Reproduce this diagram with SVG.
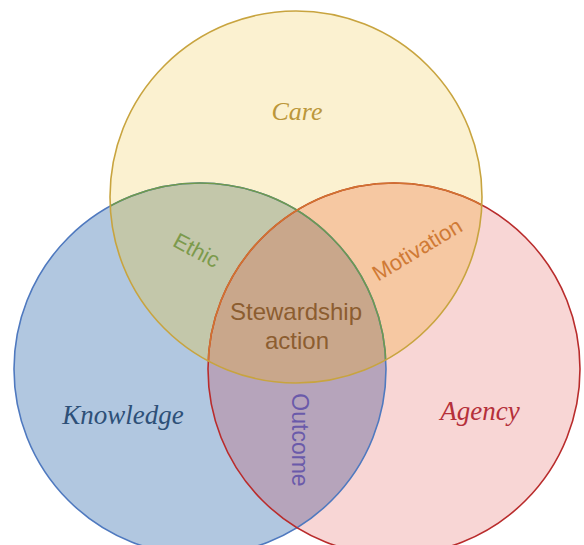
<svg xmlns="http://www.w3.org/2000/svg" width="584" height="545" viewBox="0 0 584 545">
<style>
.ring{fill:none;stroke-width:1.6}
.title{font-family:"Liberation Serif",serif;font-style:italic;text-anchor:middle}
.lbl{font-family:"Liberation Sans",Arial,sans-serif;text-anchor:middle}
</style>
<defs>
<circle id="shCare" cx="296" cy="197" r="186"/>
<circle id="shKnow" cx="200" cy="369" r="186"/>
<circle id="shAg" cx="394" cy="369" r="186"/>
<clipPath id="cCare"><use href="#shCare"/></clipPath>
<clipPath id="cKnow"><use href="#shKnow"/></clipPath>
</defs>
<rect width="584" height="545" fill="#ffffff"/>
<g id="care-fill"><use href="#shCare" fill="#fbf1d0"/></g>
<g id="knowledge-fill"><use href="#shKnow" fill="#b1c7e0"/></g>
<g id="agency-fill"><use href="#shAg" fill="#f8d6d5"/></g>
<g id="ethic-region" clip-path="url(#cCare)"><use href="#shKnow" fill="#c3c7aa"/></g>
<g id="motivation-region" clip-path="url(#cCare)"><use href="#shAg" fill="#f6c8a2"/></g>
<g id="outcome-region" clip-path="url(#cKnow)"><use href="#shAg" fill="#b6a4bb"/></g>
<g id="stewardship-region" clip-path="url(#cCare)"><g clip-path="url(#cKnow)"><use href="#shAg" fill="#c9a78b"/></g></g>
<g id="outlines">
<use href="#shKnow" class="ring" stroke="#4f79bf"/>
<use href="#shAg" class="ring" stroke="#b92c2c"/>
<g clip-path="url(#cCare)">
<use href="#shKnow" class="ring" stroke="#6f9a4c"/>
<use href="#shAg" class="ring" stroke="#d2742f"/>
</g>
<use href="#shCare" class="ring" stroke="#c8a43f"/>
</g>
<g id="care"><text class="title" x="297" y="120" font-size="26" fill="#bb973a">Care</text></g>
<g id="knowledge"><text class="title" x="123" y="424" font-size="27" fill="#2e5078">Knowledge</text></g>
<g id="agency"><text class="title" x="480" y="420" font-size="27" fill="#b5303a">Agency</text></g>
<g id="ethic"><text class="lbl" transform="translate(193,257) rotate(28)" font-size="22" fill="#7c9a4c">Ethic</text></g>
<g id="motivation"><text class="lbl" transform="translate(421,256) rotate(-31)" font-size="22" fill="#d07a35">Motivation</text></g>
<g id="stewardship"><text class="lbl" x="296" y="320" font-size="24" fill="#8c5d30">Stewardship</text><text class="lbl" x="297" y="349" font-size="24" fill="#8c5d30">action</text></g>
<g id="outcome"><text class="lbl" transform="translate(292,440) rotate(90)" font-size="23" fill="#6a5aaa">Outcome</text></g>
</svg>
